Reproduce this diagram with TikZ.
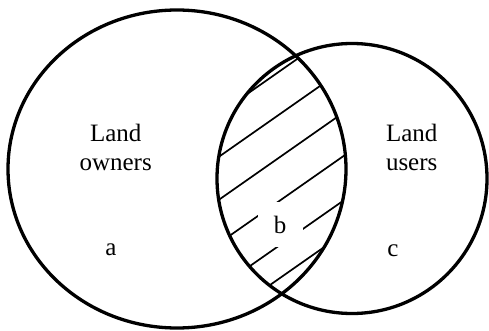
\documentclass[tikz,border=0pt]{standalone}
\usepackage{fontspec}
\setmainfont{Liberation Serif}
\begin{document}
\begin{tikzpicture}[x=1pt,y=-1pt,
  ring/.style={line width=3.3pt},
  hatch/.style={line width=1.7pt},
  lbl/.style={font=\fontsize{25}{29}\selectfont, inner sep=0pt, anchor=base}]
\useasboundingbox (0,0) rectangle (489,331);
% hatching inside the overlap
\begin{scope}
  \clip (177,169) ellipse [x radius=169, y radius=159];
  \clip (352,178.5) circle [radius=135];
  \foreach \c in {267,310,353,396.5,441,474}
    \draw[hatch] (200,{\c-140}) -- (360,{\c-252});
\end{scope}
% label b with white gap in hatching
\node[lbl, anchor=center, fill=white, minimum width=45pt, minimum height=45pt] (b) at (280,224.5) {b};
% circles
\draw[ring] (177,169) ellipse [x radius=169, y radius=159];
\draw[ring] (352,178.5) circle [radius=135];
% labels
\node[lbl] (land1) at (115.7,141.7) {Land};
\node[lbl] (owners) at (115.7,170) {owners};
\node[lbl] (land2) at (411.7,141.7) {Land};
\node[lbl] (users) at (411.7,170) {users};
\node[lbl] (a) at (111,255) {a};
\node[lbl] (c) at (393,256.5) {c};
\end{tikzpicture}
\end{document}
